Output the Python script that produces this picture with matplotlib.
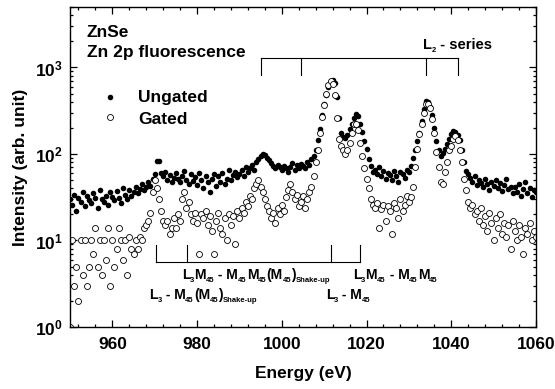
import numpy as np
import matplotlib
matplotlib.use("Agg")
import matplotlib.pyplot as plt

plt.rcParams["font.family"] = "Liberation Sans"
plt.rcParams["font.weight"] = "bold"
plt.rcParams["axes.labelweight"] = "bold"
plt.rcParams["mathtext.fontset"] = "custom"
plt.rcParams["mathtext.rm"] = "Liberation Sans:bold"
plt.rcParams["mathtext.it"] = "Liberation Sans:bold"
plt.rcParams["mathtext.bf"] = "Liberation Sans:bold"
plt.rcParams["mathtext.default"] = "rm"

# scan grid, 0.5 eV steps
energy = np.arange(950, 1060.5, 0.5)

ungated = [
    30, 26, 34, 22, 31, 28, 36, 25, 33, 29,
    27, 35, 31, 24, 38, 30, 28, 33, 26, 36,
    32, 29, 37, 31, 27, 40, 34, 30, 38, 33,
    36, 42, 35, 39, 45, 38, 41, 47, 43, 52,
    58, 82, 84, 60, 55, 62, 50, 57, 48, 53,
    60, 52, 47, 55, 63, 50, 45, 58, 49, 54,
    44, 61, 50, 40, 56, 47, 36, 52, 58, 43,
    55, 48, 60, 45, 52, 66, 50, 57, 62, 54,
    59, 65, 56, 70, 62, 68, 75, 66, 80, 88,
    95, 100, 97, 90, 85, 78, 72, 68, 75, 70,
    65, 73, 68, 62, 70, 78, 66, 74, 69, 77,
    72, 68, 80, 75, 88, 95, 110, 145, 195, 280,
    380, 480, 590, 690, 720, 660, 450, 260, 175, 158,
    155, 165, 195, 225, 260, 290, 275, 220, 180, 140,
    115, 88, 72, 62, 66, 58, 70, 55, 63, 52,
    60, 57, 50, 64, 55, 48, 62, 58, 53, 66,
    62, 72, 89, 112, 140, 175, 240, 330, 415, 395,
    350, 280, 200, 140, 110, 95, 102, 115, 130, 148,
    170, 182, 178, 165, 145, 110, 80, 64, 58, 53,
    48, 55, 44, 50, 46, 41, 52, 45, 38, 47,
    43, 50, 40, 46, 37, 44, 52, 39, 42, 35,
    41, 36, 45, 33, 39, 47, 35, 40, 32, 38,
    36,
]

gated = [
    1, 10, 3, 5, 2, 10, 4, 10, 3, 5,
    10, 7, 14, 5, 10, 4, 10, 6, 14, 3,
    10, 5, 8, 14, 10, 6, 10, 4, 11, 8,
    7, 10, 8, 11, 10, 14, 15, 17, 21, 36,
    50, 40, 30, 22, 17, 15, 17, 12, 14, 18,
    14, 20, 17, 30, 36, 24, 28, 20, 17, 21,
    16, 7, 20, 18, 22, 15, 19, 13, 7, 17,
    21, 14, 12, 18, 10, 20, 15, 19, 9, 22,
    18, 24, 21, 28, 25, 33, 30, 40, 45, 50,
    42, 36, 30, 25, 22, 18, 21, 16, 24, 20,
    26, 22, 32, 38, 45, 36, 30, 34, 25, 28,
    33, 24, 30, 36, 42, 55, 80, 110, 175, 270,
    370, 500, 620, 690, 640, 480, 260, 150, 125, 110,
    100, 112, 135, 175, 220, 225, 190, 135, 95, 68,
    52, 40, 30, 26, 24, 27, 14, 23, 26, 17,
    25, 22, 12, 27, 24, 18, 30, 22, 26, 33,
    28, 32, 42, 70, 115, 170, 225, 300, 375, 380,
    340, 255, 175, 105, 70, 48, 45, 62, 80, 110,
    125, 150, 160, 145, 110, 80, 52, 38, 28, 24,
    26, 20, 22, 17, 24, 15, 19, 13, 21, 16,
    10, 18, 14, 20, 12, 16, 11, 15, 8, 17,
    13, 10, 15, 11, 7, 14, 12, 16, 10, 13,
    11,
]

# line positions (eV) for the two brackets
l2_lines = [995, 1004.5, 1034, 1041.5]
l3_lines = [970.2, 977.7, 1011.5, 1018.5]

fig = plt.figure(figsize=(5.55, 3.89), dpi=100)
ax = fig.add_axes([0.1261, 0.1594, 0.8396, 0.8226])
renderer = fig.canvas.get_renderer()


def label_runs(x, y, runs, size=10.0, subsize=5.5, drop=2.2):
    # lay out text pieces left to right; subscripts smaller and lowered
    offset = 0.0
    for s, sub in runs:
        t = ax.annotate(s, (x, y), xytext=(offset, -drop if sub else 0),
                        textcoords="offset points", ha="left", va="baseline",
                        fontsize=subsize if sub else size)
        offset += t.get_window_extent(renderer).width * 72 / fig.dpi


ax.plot(energy, ungated, "o", color="black", ms=4.0, mew=0)
ax.plot(energy, gated, "o", mfc="white", mec="black", ms=4.3, mew=0.6)

ax.set_yscale("log")
ax.set_xlim(950, 1060)
ax.set_ylim(1, 5000)
ax.set_xticks([960, 980, 1000, 1020, 1040, 1060])
ax.set_xticks(np.arange(952, 1060, 4), minor=True)
ax.set_yticks([1, 10, 100, 1000])
ax.set_yticklabels([r"10$^{0}$", r"10$^{1}$", r"10$^{2}$", r"10$^{3}$"])
ax.tick_params(which="both", direction="in", top=True, right=True,
               labelsize=12.5, width=0.9)
ax.tick_params(which="major", length=5)
ax.tick_params(which="minor", length=2.5)
ax.tick_params(axis="x", pad=7)
ax.tick_params(axis="y", pad=5)
for s in ax.spines.values():
    s.set_linewidth(1.0)

ax.set_xlabel("Energy (eV)", fontsize=12.5, labelpad=10)
ax.set_ylabel("Intensity (arb. unit)", fontsize=12.5, labelpad=5)

# L2 series bracket
ax.plot([l2_lines[0], l2_lines[-1]], [1277, 1277], color="black", lw=0.8)
for e in l2_lines:
    ax.plot([e, e], [819, 1277], color="black", lw=0.8)
label_runs(1033.3, 1625, [("L", False), ("2", True), (" - series", False)], size=10.5)

# L3 bracket
ax.plot([l3_lines[0], l3_lines[-1]], [5.69, 5.69], color="black", lw=0.8)
for e in l3_lines:
    ax.plot([e, e], [5.69, 8.87], color="black", lw=0.8)
label_runs(976.4, 3.56, [("L", False), ("3", True), ("M", False), ("45", True),
                         (" - M", False), ("45", True), ("M", False), ("45", True),
                         ("(M", False), ("45", True), (")", False), ("Shake-up", True)])
label_runs(968.65, 2.11, [("L", False), ("3", True), (" - M", False), ("45", True),
                          ("(M", False), ("45", True), (")", False), ("Shake-up", True)])
label_runs(1016.8, 3.56, [("L", False), ("3", True), ("M", False), ("45", True),
                          (" - M", False), ("45", True), ("M", False), ("45", True)])
label_runs(1010.4, 2.11, [("L", False), ("3", True), (" - M", False), ("45", True)])

# sample and legend
ax.text(0.0365, 0.905, "ZnSe", transform=ax.transAxes, fontsize=12.5, va="baseline")
ax.text(0.0365, 0.843, "Zn 2p fluorescence", transform=ax.transAxes,
        fontsize=12.5, va="baseline")
ax.plot([0.0858], [0.720], "o", color="black", ms=4.0, mew=0, transform=ax.transAxes)
ax.plot([0.0858], [0.655], "o", mfc="white", mec="black", ms=4.3, mew=0.6,
        transform=ax.transAxes)
ax.text(0.146, 0.704, "Ungated", transform=ax.transAxes, fontsize=12.5, va="baseline")
ax.text(0.146, 0.634, "Gated", transform=ax.transAxes, fontsize=12.5, va="baseline")

fig.savefig("out.png", dpi=100)
